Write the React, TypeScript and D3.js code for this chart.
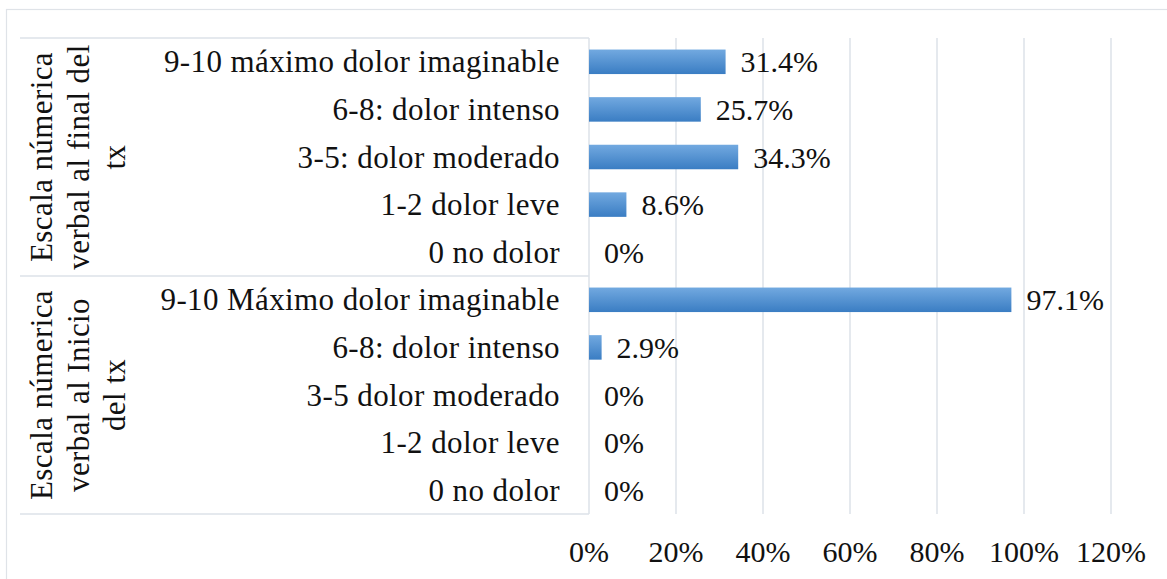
import React from "react";
import * as d3 from "d3";

const groupLabels: string[][] = [
  ["Escala númerica", "verbal al final del", "tx"],
  ["Escala númerica", "verbal al Inicio", "del tx"],
];
const categoriesFinal = [
  "9-10 máximo dolor imaginable",
  "6-8: dolor intenso",
  "3-5: dolor moderado",
  "1-2 dolor leve",
  "0 no dolor",
];
const valuesFinal = [31.4, 25.7, 34.3, 8.6, 0];
const categoriesInicio = [
  "9-10 Máximo dolor imaginable",
  "6-8: dolor intenso",
  "3-5 dolor moderado",
  "1-2 dolor leve",
  "0 no dolor",
];
const valuesInicio = [97.1, 2.9, 0, 0, 0];
const labelsFinal = ["31.4%", "25.7%", "34.3%", "8.6%", "0%"];
const labelsInicio = ["97.1%", "2.9%", "0%", "0%", "0%"];
const xTicks = [0, 20, 40, 60, 80, 100, 120];

const W = 1167;
const H = 579;
const FONT = "'Liberation Serif', 'Times New Roman', serif";

export default function App() {
  const rows = [
    ...categoriesFinal.map((c, i) => ({ id: "f" + i, cat: c, v: valuesFinal[i], lab: labelsFinal[i] })),
    ...categoriesInicio.map((c, i) => ({ id: "i" + i, cat: c, v: valuesInicio[i], lab: labelsInicio[i] })),
  ];
  const plotTop = 38;
  const plotBottom = 514;
  const x = d3.scaleLinear().domain([0, 120]).range([589, 1111]);
  const y = d3
    .scaleBand<string>()
    .domain(rows.map((r) => r.id))
    .range([plotTop, plotBottom])
    .paddingInner(0.485)
    .paddingOuter(0.2425);
  const groupY = d3.scaleBand<number>().domain([0, 1]).range([plotTop, plotBottom]);
  const grid = "#dde2e9";

  return (
    <svg width={W} height={H} style={{ position: "absolute", left: 0, top: 0 }} fontFamily={FONT}>
      <defs>
        <linearGradient id="barGrad" x1="0" y1="0" x2="0" y2="1">
          <stop offset="0%" stopColor="#72a9e0" />
          <stop offset="100%" stopColor="#3a7dc3" />
        </linearGradient>
      </defs>
      <rect x={0} y={0} width={W} height={H} fill="#ffffff" />
      <rect x={6.5} y={9.5} width={W + 10} height={H + 10} fill="none" stroke="#dfe3e8" strokeWidth={1.2} />
      {xTicks.slice(1).map((t) => (
        <line key={t} x1={x(t)} x2={x(t)} y1={plotTop} y2={plotBottom} stroke={grid} strokeWidth={1.5} />
      ))}
      <line x1={x(0)} x2={x(0)} y1={plotTop} y2={plotBottom} stroke={grid} strokeWidth={1.5} />
      {[0, 1].map((g) => (
        <line key={"h" + g} x1={20} x2={x(0)} y1={groupY(g)!} y2={groupY(g)!} stroke={grid} strokeWidth={1.5} />
      ))}
      <line x1={20} x2={x(0)} y1={plotBottom} y2={plotBottom} stroke={grid} strokeWidth={1.5} />
      {rows.map((r) => (
        <g key={r.id}>
          {r.v > 0 && (
            <rect x={x(0)} y={y(r.id)!} width={x(r.v) - x(0)} height={y.bandwidth()} fill="url(#barGrad)" />
          )}
          <text x={x(r.v) + 15} y={y(r.id)! + y.bandwidth() / 2 + 10.5} fontSize={30} fill="#111">
            {r.lab}
          </text>
          <text
            x={560}
            y={y(r.id)! + y.bandwidth() / 2 + 10.5}
            fontSize={31}
            letterSpacing={0.4}
            textAnchor="end"
            fill="#111"
          >
            {r.cat}
          </text>
        </g>
      ))}
      {groupLabels.map((lines, g) => {
        const cy = groupY(g)! + groupY.bandwidth() / 2;
        return (
          <g key={"g" + g}>
            {lines.map((ln, i) => (
              <text
                key={i}
                transform={`translate(${52 + i * 36.5},${cy}) rotate(-90)`}
                textAnchor="middle"
                fontSize={31}
                letterSpacing={0.4}
                fill="#111"
              >
                {ln}
              </text>
            ))}
          </g>
        );
      })}
      {xTicks.map((t) => (
        <text key={"t" + t} x={x(t)} y={562} textAnchor="middle" fontSize={30} fill="#111">
          {t + "%"}
        </text>
      ))}
    </svg>
  );
}
